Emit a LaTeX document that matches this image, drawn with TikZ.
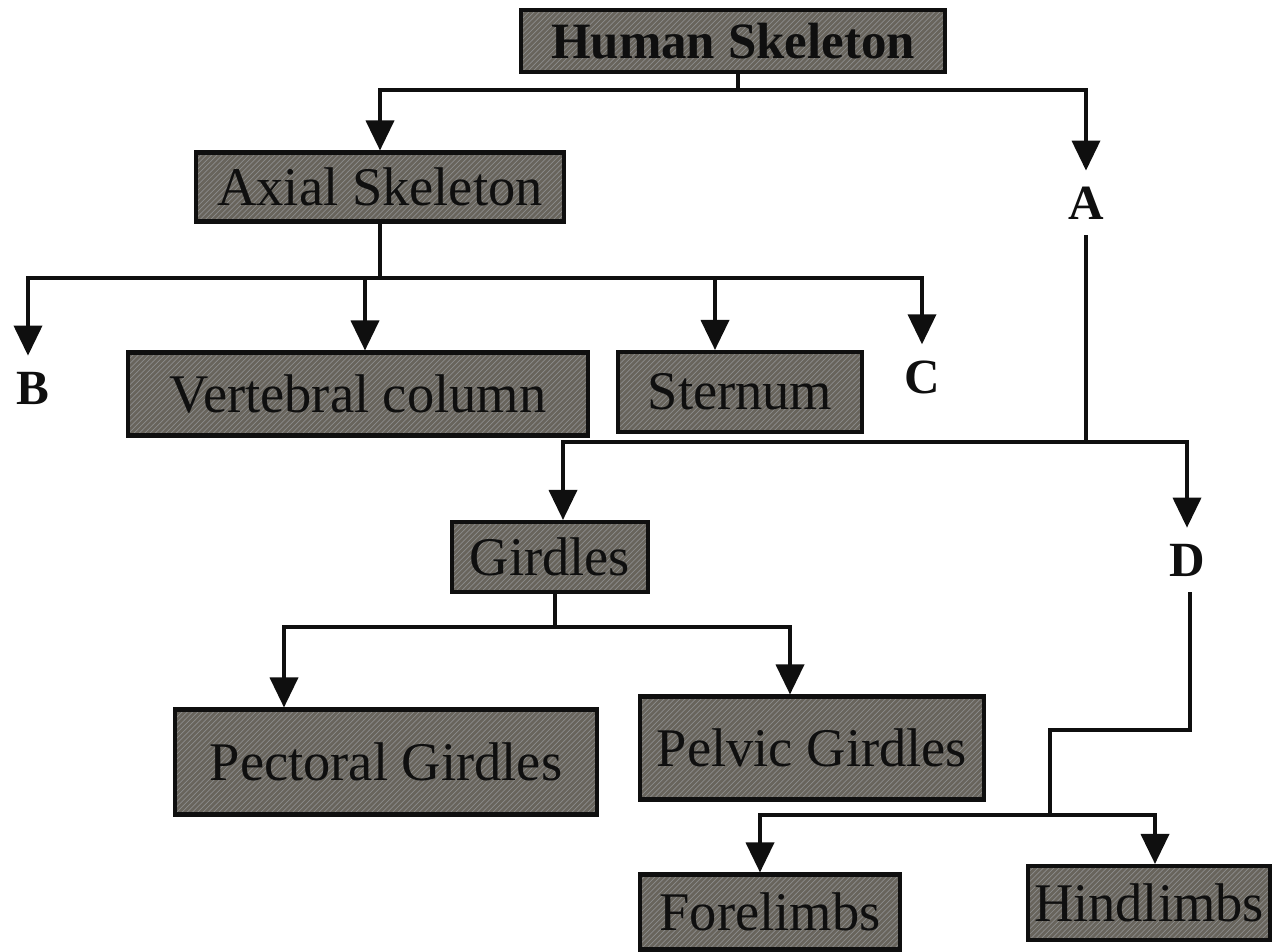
\documentclass[tikz,border=0pt]{standalone}
\usepackage{fontspec}
\setmainfont{Liberation Serif}
\usetikzlibrary{arrows.meta,patterns}

\definecolor{boxgray}{RGB}{104,100,92}
\definecolor{inkblack}{RGB}{15,15,15}

\tikzset{
  box/.style={draw=inkblack,line width=2.3pt,preaction={fill=boxgray},
    pattern=north east lines,pattern color=black!45,text=inkblack,inner sep=0pt,
    font=\fontsize{31}{36}\selectfont},
  bigbox/.style={box,font=\bfseries\fontsize{29}{34}\selectfont},
  letter/.style={text=inkblack,font=\bfseries\fontsize{28}{32}\selectfont,
    inner xsep=0pt,inner ysep=9pt},
  link/.style={line width=2.1pt,draw=inkblack},
  arr/.style={link,-{Triangle[length=0.6cm,width=0.56cm]}},
}

\begin{document}
\begin{tikzpicture}[x=0.02cm,y=-0.02cm]
  \useasboundingbox (0,0) rectangle (1286,952);

  % boxes and letters
  \node[bigbox,minimum width=8.5cm,minimum height=1.24cm] (hs) at (733,41) {Human Skeleton};
  \node[box,minimum width=7.36cm,minimum height=1.38cm] (ax) at (380,187) {Axial Skeleton};
  \node[letter] (A) at (1086,203) {A};
  \node[letter] (B) at (33,388) {B};
  \node[box,minimum width=9.22cm,minimum height=1.66cm] (vc) at (358,394) {Vertebral column};
  \node[box,minimum width=4.88cm,minimum height=1.6cm] (st) at (740,392) {Sternum};
  \node[letter] (C) at (922,377) {C};
  \node[box,minimum width=3.92cm,minimum height=1.4cm] (gi) at (550,557) {Girdles};
  \node[letter] (D) at (1187,560) {D};
  \node[box,minimum width=8.46cm,minimum height=2.1cm] (pc) at (386,762) {Pectoral Girdles};
  \node[box,minimum width=6.9cm,minimum height=2.06cm] (pv) at (812,748) {Pelvic Girdles};
  \node[box,minimum width=5.2cm,minimum height=1.5cm] (fl) at (770,912) {Forelimbs};
  \node[box,minimum width=4.84cm,minimum height=1.48cm] (hl) at (1149,903) {Hindlimbs};

  % junctions
  \coordinate (jhs) at (738,90);
  \coordinate (jax) at (380,278);
  \coordinate (jA) at (1086,442);
  \coordinate (jgi) at (555,627);
  \coordinate (jd1) at (1190,730);
  \coordinate (jd2) at (1050,815);

  % connectors
  \draw[link] (hs.south -| jhs) -- (jhs);
  \draw[arr] (jhs) -| (ax);
  \draw[arr] (jhs) -| (A);

  \draw[link] (ax) -- (jax);
  \draw[arr] (jax) -| (28,0 |- B.north);
  \draw[arr] (jax) -| (365,0 |- vc.north);
  \draw[arr] (jax) -| (715,0 |- st.north);
  \draw[arr] (jax) -| (C);

  \draw[link] (A) -- (jA);
  \draw[arr] (jA) -| (563,0 |- gi.north);
  \draw[arr] (jA) -| (D);

  \draw[link] (gi.south -| jgi) -- (jgi);
  \draw[arr] (jgi) -| (284,0 |- pc.north);
  \draw[arr] (jgi) -| (790,0 |- pv.north);

  \draw[link] (D.south -| jd1) -- (jd1) -| (jd2);
  \draw[arr] (jd2) -| (760,0 |- fl.north);
  \draw[arr] (jd2) -| (1155,0 |- hl.north);
\end{tikzpicture}
\end{document}
